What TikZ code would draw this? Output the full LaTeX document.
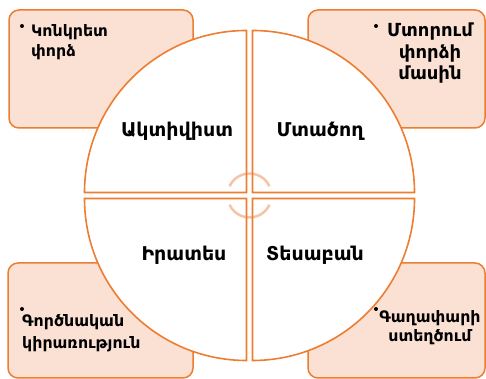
\documentclass[tikz,border=0pt]{standalone}
\usepackage{fontspec}
\setmainfont{DejaVu Sans}
\definecolor{orng}{HTML}{ED7D31}
\definecolor{peach}{HTML}{FBE0D4}
\definecolor{ring}{HTML}{F6C3A5}
\begin{document}
\begin{tikzpicture}[x=1pt,y=1pt,
  box/.style={draw=orng, fill=peach, line width=1.5pt, rounded corners=10pt},
  sector/.style={draw=orng, line width=1.6pt},
  quad/.style={font=\bfseries\fontsize{19}{22}\selectfont},
  note/.style={font=\bfseries\fontsize{15.8}{20}\selectfont, inner sep=0pt},
  dot/.style={circle, fill=black, inner sep=0pt, minimum size=4pt}]
  \useasboundingbox (0,0) rectangle (486,379);
  % boxes behind the circle
  \draw[box] (9,251) rectangle (193,369);
  \draw[box] (308,251) rectangle (485,369);
  \draw[box] (8,1) rectangle (193,116);
  \draw[box] (308,1) rectangle (485,116);
  % four quarters
  \coordinate (c) at (249.5,183.5);
  \foreach \a in {0,90,180,270}
    \fill[white] (c) ++(\a+45:4.24) -- ++(\a:162) arc[start angle=\a, end angle=\a+90, radius=162] -- cycle;
  \draw[ring, line width=2.5pt] (c) ++(25:22) arc[start angle=25, end angle=155, radius=22];
  \draw[ring, line width=2.5pt] (c) ++(205:22) arc[start angle=205, end angle=335, radius=22];
  \foreach \a in {0,90,180,270}
    \draw[sector] (c) ++(\a+45:4.24) -- ++(\a:162) arc[start angle=\a, end angle=\a+90, radius=162] -- cycle;
  % labels
  \node[quad] (akt) at (177,248) {Ակտիվիստ};
  \node[quad] (mta) at (320,248) {Մտածող};
  \node[quad] (ira) at (184,124) {Իրատես};
  \node[quad] (tes) at (315,124) {Տեսաբան};
  % box texts (base = last line)
  \node[dot] (d1) at (22,353) {};
  \node[note, anchor=base west, align=left] (t1) at (31,322) {Կոնկրետ\\փորձ};
  \node[dot] (d2) at (376,353) {};
  \node[note, font=\bfseries\fontsize{18}{21.5}\selectfont, anchor=base, align=center] (t2) at (430,299) {Մտորում\\փորձի\\մասին};
  \node[dot] (d3) at (22,70) {};
  \node[note, font=\bfseries\fontsize{15.8}{22}\selectfont, anchor=base west, align=left] (t3) at (22,30) {Գործնական\\կիրառություն};
  \node[dot] (d4) at (376,70) {};
  \node[note, font=\bfseries\fontsize{15.8}{19}\selectfont, anchor=base, align=center] (t4) at (430,37) {Գաղափարի\\ստեղծում};
\end{tikzpicture}
\end{document}
